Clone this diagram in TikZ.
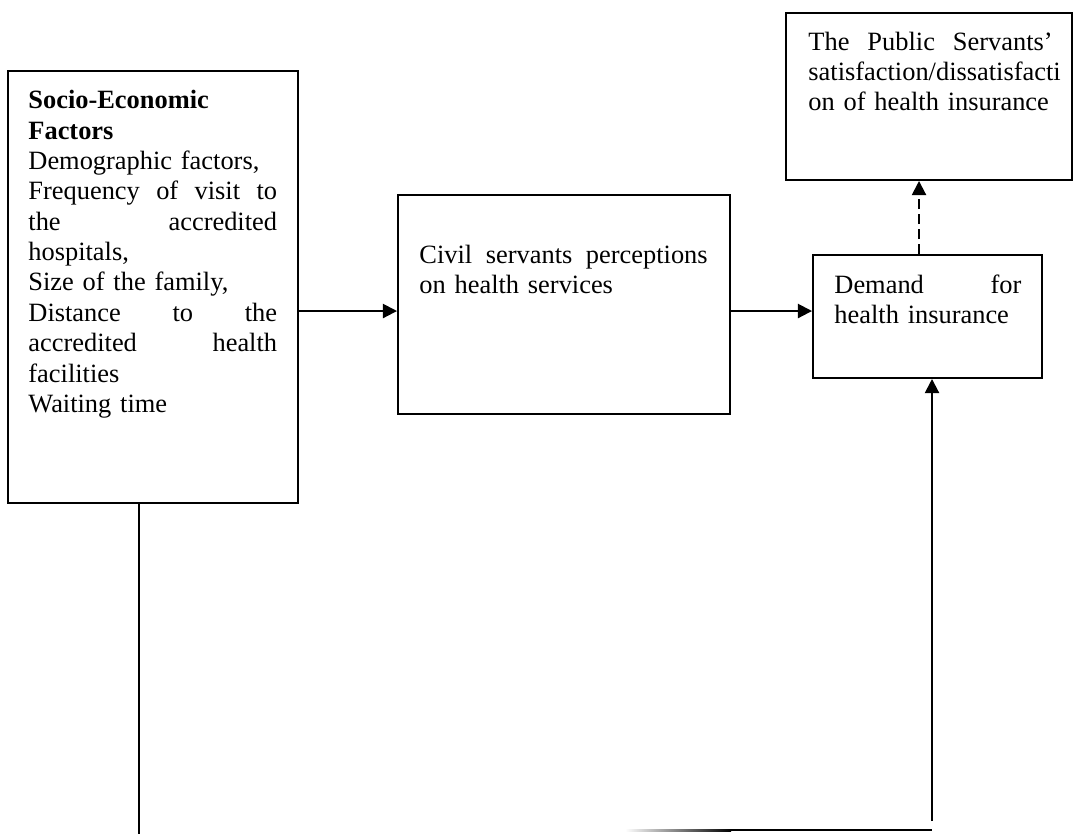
\documentclass[tikz,border=0pt]{standalone}
\usepackage{fontspec}
\setmainfont{Liberation Serif}
\usetikzlibrary{arrows.meta,fit}
\begin{document}
\begin{tikzpicture}[x=0.4545pt,y=-0.4545pt,
  box/.style={draw, line width=0.9pt, inner sep=0pt},
  txt/.style={anchor=north west, inner sep=0pt, align=left, font=\fontsize{12}{13.8}\selectfont},
  conn/.style={line width=0.9pt},
  arr/.style={conn, -{Triangle[length=6.4pt,width=6.4pt]}},
  darr/.style={arr, dash pattern=on 4.5pt off 2.3pt}]
\useasboundingbox (0,0) rectangle (1073,834);

% boxes
\node[box, fit={(8,71) (298,503)}] (left) {};
\node[box, fit={(398,195) (730,414)}] (mid) {};
\node[box, fit={(813,255) (1042,378)}] (dem) {};
\node[box, fit={(786,13) (1072,180)}] (top) {};

% texts
\node[txt, text width=113pt] (lefttxt) at (28,90) {%
\textbf{Socio-Economic}\\
\textbf{Factors}\\
Demographic factors,\\
Frequency\hfill of\hfill visit\hfill to\\
the\hfill accredited\\
hospitals,\\
Size of the family,\\
Distance\hfill to\hfill the\\
accredited\hfill health\\
facilities\\
Waiting time};

\node[txt, text width=111pt] (toptxt) at (808,31.5) {%
The\hfill Public\hfill Servants’\\
\mbox{satisfaction/dissatisfacti}\\
on of health insurance};

\node[txt, text width=131pt] (midtxt) at (419,244.5) {%
Civil\hfill servants\hfill perceptions\\
on health services};

\node[txt, text width=85pt] (demtxt) at (834,274) {%
Demand\hfill for\\
health insurance};

% helper coordinates
\coordinate (h) at (0,311);
\coordinate (d1) at (919,0);
\coordinate (lv) at (139,834);
\coordinate (hb0) at (625,830);
\coordinate (hb1) at (731,830);
\coordinate (hb2) at (932,830);
\coordinate (rv) at (932,821);

% connectors
\draw[arr] (left.east |- h) -- (mid.west |- h);
\draw[arr] (mid.east |- h) -- (dem.west |- h);
\draw[darr] (dem.north -| d1) -- (top.south -| d1);
\draw[conn] (left.south -| lv) -- (lv);
\shade[left color=white, right color=black] (625,829) rectangle (731,831);
\draw[conn] (hb1) -- (hb2);
\draw[arr] (rv) -- (dem.south -| rv);
\end{tikzpicture}
\end{document}
